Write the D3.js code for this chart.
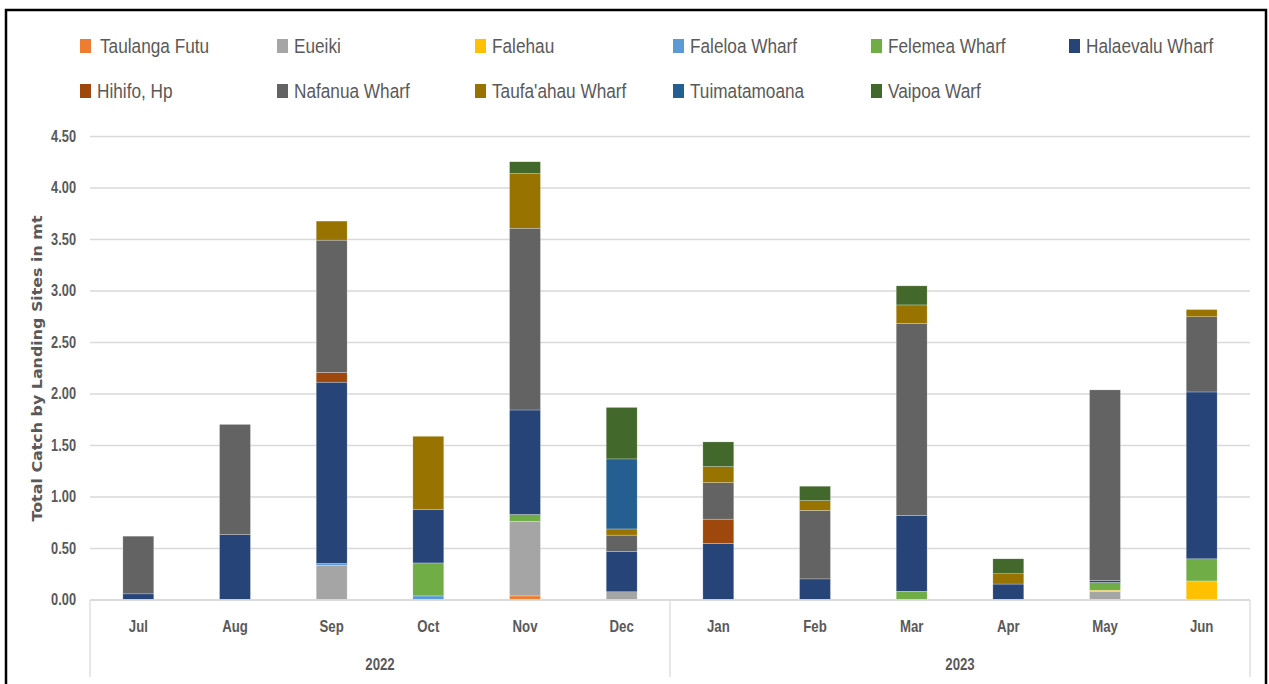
<!DOCTYPE html>
<html>
<head>
<meta charset="utf-8">
<script src="https://cdn.jsdelivr.net/npm/d3@7"></script>
<style>
  html, body { margin: 0; padding: 0; background: #fff; }
  svg { display: block; }
</style>
</head>
<body>
<svg id="chart" width="1269" height="684"></svg>
<script>
// ---- Data ----
const months = ["Jul", "Aug", "Sep", "Oct", "Nov", "Dec", "Jan", "Feb", "Mar", "Apr", "May", "Jun"];
const yearLabels = ["2022", "2023"];
const yearSpans = [[0, 5], [6, 11]];
const yTicks = [0, 0.5, 1, 1.5, 2, 2.5, 3, 3.5, 4, 4.5];

const siteNames = ["Taulanga Futu", "Eueiki", "Falehau", "Faleloa Wharf", "Felemea Wharf", "Halaevalu Wharf",
                   "Hihifo, Hp", "Nafanua Wharf", "Taufa'ahau Wharf", "Tuimatamoana", "Vaipoa Warf"];
const siteColors = ["#ED7D31", "#A5A5A5", "#FFC000", "#5B9BD5", "#70AD47", "#264478",
                    "#9E480E", "#636363", "#997300", "#255E91", "#43682B"];

const taulangaFutu  = [0, 0, 0, 0, 0.035, 0, 0, 0, 0, 0, 0, 0];
const eueiki        = [0, 0, 0.33, 0, 0.725, 0.075, 0, 0, 0, 0, 0.075, 0];
const falehau       = [0, 0, 0, 0, 0, 0, 0, 0, 0, 0, 0.015, 0.18];
const faleloa       = [0, 0, 0.02, 0.035, 0, 0, 0, 0, 0, 0, 0, 0];
const felemea       = [0, 0, 0, 0.32, 0.065, 0, 0, 0, 0.08, 0, 0.075, 0.215];
const halaevalu     = [0.055, 0.63, 1.76, 0.52, 1.015, 0.39, 0.545, 0.20, 0.735, 0.15, 0.02, 1.62];
const hihifo        = [0, 0, 0.094, 0, 0, 0, 0.235, 0, 0, 0, 0, 0];
const nafanua       = [0.56, 1.07, 1.285, 0, 1.765, 0.16, 0.355, 0.665, 1.865, 0, 1.85, 0.73];
const taufaahau     = [0, 0, 0.185, 0.71, 0.53, 0.06, 0.155, 0.095, 0.18, 0.10, 0, 0.07];
const tuimatamoana  = [0, 0, 0, 0, 0, 0.68, 0, 0, 0, 0, 0, 0];
const vaipoa        = [0, 0, 0, 0, 0.115, 0.50, 0.24, 0.14, 0.185, 0.145, 0, 0];

const seriesValues = [taulangaFutu, eueiki, falehau, faleloa, felemea, halaevalu,
                      hihifo, nafanua, taufaahau, tuimatamoana, vaipoa];

// ---- Build table ----
const table = months.map((m, i) => {
  const row = { month: m, idx: i };
  siteNames.forEach((s, k) => row[s] = seriesValues[k][i]);
  return row;
});

const svg = d3.select("#chart");
const L = 90, R = 1250, T = 136, B = 600;
const textColor = "#595959";
const gridColor = "#D9D9D9";

// frame
svg.append("rect").attr("x", 6).attr("y", 10).attr("width", 1260).attr("height", 700)
  .attr("fill", "none").attr("stroke", "#000").attr("stroke-width", 2.5);

const x = d3.scaleBand().domain(d3.range(months.length)).range([L, R])
  .paddingInner(0.68).paddingOuter(0.34);
const y = d3.scaleLinear().domain([0, 4.5]).range([B - 0.5, T]);

// gridlines
const grid = svg.append("g").attr("transform", `translate(${L},0)`)
  .call(d3.axisLeft(y).tickValues(yTicks).tickSize(-(R - L)).tickFormat(""));
grid.select(".domain").remove();
grid.selectAll(".tick line").attr("stroke", gridColor).attr("stroke-width", 1.5);

// y tick labels
svg.append("g").selectAll("text").data(yTicks).join("text")
  .attr("transform", d => `translate(76,${y(d)}) scale(0.8,1)`)
  .attr("dy", "0.36em")
  .attr("text-anchor", "end")
  .attr("font-family", "Liberation Sans, Arial, sans-serif")
  .attr("font-weight", "bold")
  .attr("font-size", 16)
  .attr("fill", textColor)
  .text(d3.format(".2f"));

// y title
svg.append("text")
  .attr("transform", `translate(42,${(215 + 522) / 2}) rotate(-90)`)
  .attr("text-anchor", "middle")
  .attr("font-family", "DejaVu Sans, Verdana, sans-serif")
  .attr("font-weight", "bold")
  .attr("font-size", 14.5)
  .attr("fill", textColor)
  .attr("textLength", 306)
  .attr("lengthAdjust", "spacingAndGlyphs")
  .text("Total Catch by Landing Sites in mt");

// stacked bars
const stack = d3.stack().keys(siteNames);
const stacked = stack(table);
svg.append("g").selectAll("g").data(stacked).join("g")
  .attr("fill", (d, i) => siteColors[i])
  .selectAll("rect").data(d => d.filter(p => p[1] - p[0] > 0)).join("rect")
  .attr("x", d => x(d.data.idx))
  .attr("width", x.bandwidth())
  .attr("y", d => y(d[1]))
  .attr("height", d => y(d[0]) - y(d[1]))
  .attr("stroke", "#fff").attr("stroke-width", 0.5).attr("stroke-opacity", 0.5);

// x axis line + separators
svg.append("line").attr("x1", L).attr("x2", R).attr("y1", B).attr("y2", B)
  .attr("stroke", gridColor).attr("stroke-width", 1.5);
const sepXs = [L, (x(5) + x.bandwidth() + x(6)) / 2, R];
svg.append("g").selectAll("line").data(sepXs).join("line")
  .attr("x1", d => d).attr("x2", d => d).attr("y1", B).attr("y2", 677)
  .attr("stroke", gridColor).attr("stroke-width", 1.2);

// month labels
svg.append("g").selectAll("text").data(months).join("text")
  .attr("transform", (d, i) => `translate(${x(i) + x.bandwidth() / 2},626) scale(0.8,1)`)
  .attr("dy", "0.36em")
  .attr("text-anchor", "middle")
  .attr("font-family", "Liberation Sans, Arial, sans-serif")
  .attr("font-weight", "bold")
  .attr("font-size", 16.5)
  .attr("fill", textColor)
  .text(d => d);

// year labels
svg.append("g").selectAll("text").data(yearLabels).join("text")
  .attr("transform", (d, i) => {
    const a = x(yearSpans[i][0]), b = x(yearSpans[i][1]) + x.bandwidth();
    return `translate(${(a + b) / 2},664) scale(0.8,1)`;
  })
  .attr("dy", "0.36em")
  .attr("text-anchor", "middle")
  .attr("font-family", "Liberation Sans, Arial, sans-serif")
  .attr("font-weight", "bold")
  .attr("font-size", 16.5)
  .attr("fill", textColor)
  .text(d => d);

// legend
const legCols = [80, 277, 475, 673, 871, 1069];
const legRows = [46, 91];
const leg = svg.append("g").selectAll("g").data(siteNames).join("g")
  .attr("transform", (d, i) => {
    const r = i < 6 ? 0 : 1, c = i < 6 ? i : i - 6;
    return `translate(${legCols[c]},${legRows[r]})`;
  });
leg.append("rect").attr("x", 0).attr("y", -7).attr("width", 11).attr("height", 14)
  .attr("fill", (d, i) => siteColors[i]);
leg.append("text")
  .attr("transform", (d, i) => `translate(${i === 0 ? 20 : 17},0) scale(0.84,1)`)
  .attr("dy", "0.36em")
  .attr("font-family", "Liberation Sans, Arial, sans-serif")
  .attr("font-size", 20.5)
  .attr("fill", textColor)
  .text(d => d);
</script>
</body>
</html>
